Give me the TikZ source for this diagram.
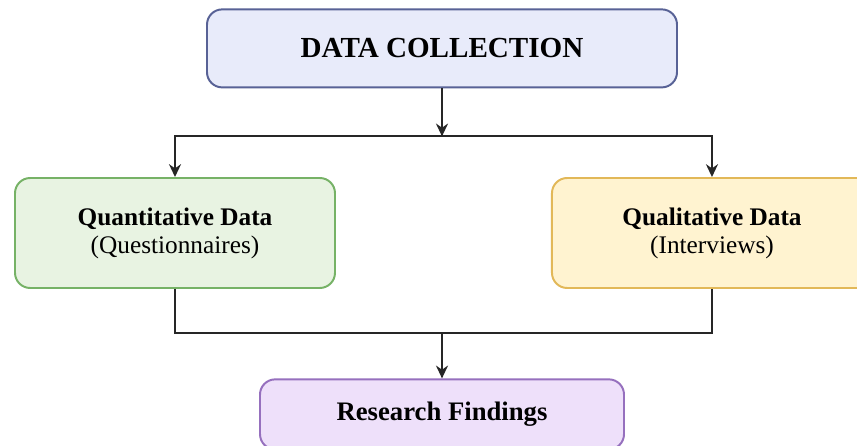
\documentclass[tikz,border=0pt]{standalone}
\usepackage{fontspec}
\setmainfont{Liberation Serif}
\usepackage{tikz}
\usetikzlibrary{arrows.meta, positioning, calc}
\definecolor{collectBlue}{RGB}{232, 235, 250}
\definecolor{collectLine}{RGB}{88, 98, 150}
\definecolor{quantGreen}{RGB}{232, 243, 226}
\definecolor{quantLine}{RGB}{118, 178, 102}
\definecolor{qualYellow}{RGB}{255, 243, 208}
\definecolor{qualLine}{RGB}{226, 184, 88}
\definecolor{findPurple}{RGB}{238, 224, 250}
\definecolor{findLine}{RGB}{150, 112, 190}

\begin{document}
\begin{tikzpicture}[
            >={Stealth[length=3.2mm, width=3mm]},
            % Styles
            box/.style={
                draw, line width=1.4pt, align=center, rounded corners=0.38cm, inner sep=0pt
            },
            flow/.style={line width=1.4pt, black!85}
        ]

            \clip (0,0) rectangle (21.425,11.15);
            \fill[white] (0,0) rectangle (21.425,11.15);

            % --- Nodes ---

            % 1. Collection
            \node[box, draw=collectLine, fill=collectBlue, minimum width=11.75cm, minimum height=1.95cm,
                  font=\fontsize{20.7}{24}\selectfont\bfseries] (collect) at (11.05,9.94) {DATA COLLECTION};

            % 2. Quantitative branch
            \node[box, draw=quantLine, fill=quantGreen, minimum width=8cm, minimum height=2.75cm,
                  font=\fontsize{18}{20}\selectfont] (quant) at (4.375,5.325)
                  {\textbf{Quantitative Data}\\(Questionnaires)};

            % 3. Qualitative branch
            \node[box, draw=qualLine, fill=qualYellow, minimum width=8cm, minimum height=2.75cm,
                  font=\fontsize{18}{20}\selectfont, right=5.375cm of quant] (qual)
                  {\textbf{Qualitative Data}\\(Interviews)};

            % 4. Findings
            \node[box, draw=findLine, fill=findPurple, minimum width=9.1cm, minimum height=1.75cm,
                  font=\fontsize{19}{22}\selectfont\bfseries, below=7.25cm of collect] (findings)
                  {Research Findings};

            % --- Junctions ---
            \coordinate (split) at ($(collect.south)+(0,-1.2)$);
            \coordinate (merge) at ($(findings.north)+(0,1.125)$);

            % --- Arrows ---
            \draw[->, flow] (collect.south) -- (split);
            \draw[->, flow] (split) -| (quant.north);
            \draw[->, flow] (split) -| (qual.north);

            \draw[flow] (quant.south) |- (merge) -| (qual.south);
            \draw[->, flow] (merge) -- (findings.north);

        \end{tikzpicture}
\end{document}
